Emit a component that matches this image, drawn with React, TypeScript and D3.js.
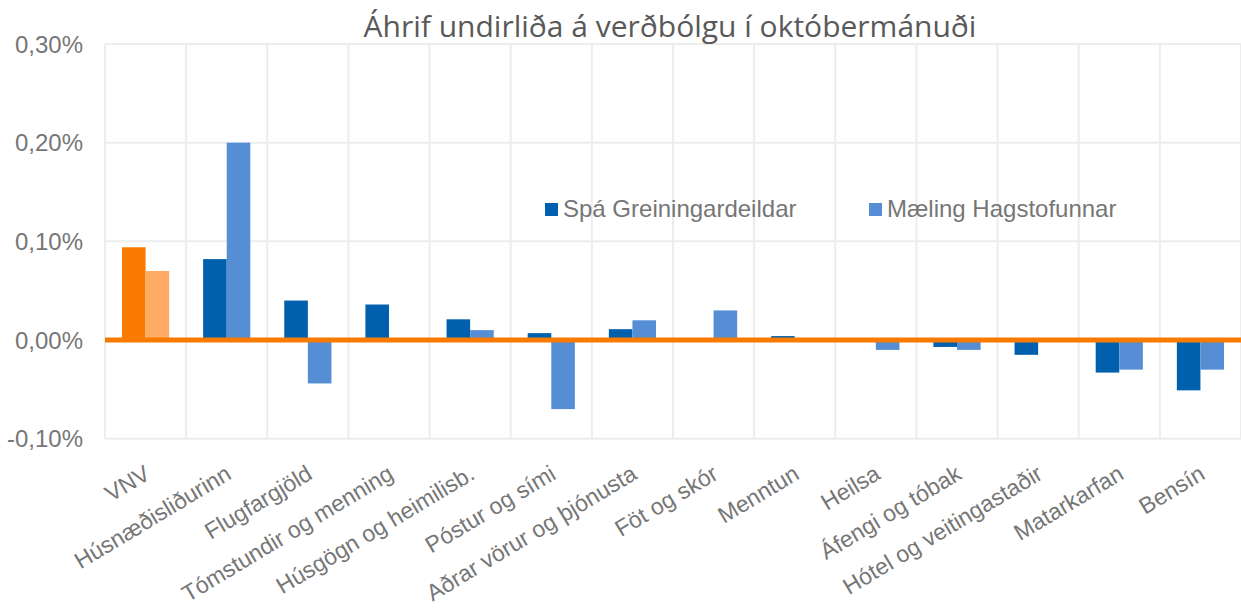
import React from "react";
import * as d3 from "d3";

const title = "Áhrif undirliða á verðbólgu í októbermánuði";
const categories = [
  "VNV",
  "Húsnæðisliðurinn",
  "Flugfargjöld",
  "Tómstundir og menning",
  "Húsgögn og heimilisb.",
  "Póstur og sími",
  "Aðrar vörur og þjónusta",
  "Föt og skór",
  "Menntun",
  "Heilsa",
  "Áfengi og tóbak",
  "Hótel og veitingastaðir",
  "Matarkarfan",
  "Bensín",
];
const spaValues = [0.094, 0.082, 0.04, 0.036, 0.021, 0.007, 0.011, 0.002, 0.004, 0, -0.007, -0.015, -0.033, -0.051];
const maelingValues = [0.07, 0.2, -0.044, 0, 0.01, -0.07, 0.02, 0.03, 0, -0.01, -0.01, 0, -0.03, -0.03];
const yTicks = [-0.1, 0, 0.1, 0.2, 0.3];
const yTickLabels = ["-0,10%", "0,00%", "0,10%", "0,20%", "0,30%"];
const seriesNames = ["Spá Greiningardeildar", "Mæling Hagstofunnar"];

const W = 1241;
const H = 615;
const plotLeft = 105;
const plotRight = 1241;
const plotTop = 44;
const plotBottom = 438.7;

const COLORS = {
  spa: "#0060AE",
  maeling: "#558ED5",
  spaHi: "#F87A00",
  maelingHi: "#FFAB63",
  grid: "#EDEDED",
  zero: "#F87A00",
  text: "#767676",
  title: "#595959",
};

export default function App() {
  const x = d3.scaleBand<string>().domain(categories).range([plotLeft, plotRight]).padding(0);
  const inner = d3
    .scaleBand<string>()
    .domain(["spa", "maeling"])
    .range([0, x.bandwidth()])
    .paddingInner(0)
    .paddingOuter(0.72);
  const y = d3.scaleLinear().domain([-0.1, 0.3]).range([plotBottom, plotTop]);

  const font = "'Liberation Sans', Arial, sans-serif";

  const bar = (v: number, key: string, i: number, fill: string) => {
    const x0 = (x(categories[i]) as number) + (inner(key) as number);
    const y0 = y(Math.max(0, v));
    const h = Math.abs(y(v) - y(0));
    return <rect key={key + i} x={x0} y={y0} width={inner.bandwidth()} height={h} fill={fill} />;
  };

  const gridX = [...categories.map((c) => x(c) as number), plotRight];

  return (
    <svg
      width={W}
      height={H}
      style={{ position: "absolute", left: 0, top: 0, background: "#fff" }}
      fontFamily={font}
    >
      <rect x={0} y={0} width={W} height={H} fill="#fff" />
      {/* gridlines */}
      {yTicks.map((t) => (
        <line key={"gy" + t} x1={plotLeft} x2={plotRight} y1={y(t)} y2={y(t)} stroke={COLORS.grid} strokeWidth={2} />
      ))}
      {gridX.map((gx, i) => (
        <line key={"gx" + i} x1={gx} x2={gx} y1={plotTop} y2={plotBottom} stroke={COLORS.grid} strokeWidth={2} />
      ))}
      {/* bars */}
      {categories.map((c, i) => (
        <g key={"b" + c}>
          {bar(spaValues[i], "spa", i, i === 0 ? COLORS.spaHi : COLORS.spa)}
          {bar(maelingValues[i], "maeling", i, i === 0 ? COLORS.maelingHi : COLORS.maeling)}
        </g>
      ))}
      {/* zero line */}
      <line x1={plotLeft} x2={plotRight} y1={y(0)} y2={y(0)} stroke={COLORS.zero} strokeWidth={5} />
      {/* y axis labels */}
      {yTicks.map((t, i) => (
        <text key={"yl" + t} x={83} y={y(t)} dy="0.36em" textAnchor="end" fontSize={24} fill={COLORS.text}>
          {yTickLabels[i]}
        </text>
      ))}
      {/* x labels */}
      {categories.map((c) => {
        const cx = (x(c) as number) + x.bandwidth() / 2 + 6;
        const cy = 478;
        return (
          <text
            key={"xl" + c}
            x={cx}
            y={cy}
            textAnchor="end"
            fontSize={23}
            fill={COLORS.text}
            transform={`rotate(-31 ${cx} ${cy})`}
          >
            {c}
          </text>
        );
      })}
      {/* title */}
      <text
        x={670}
        y={37}
        textAnchor="middle"
        fontSize={30}
        fill={COLORS.title}
        fontFamily="'Open Sans', 'Noto Sans', sans-serif"
      >
        {title}
      </text>
      {/* legend */}
      <rect x={545} y={203} width={13} height={13} fill={COLORS.spa} />
      <text x={563} y={217} fontSize={24} fill={COLORS.text}>
        {seriesNames[0]}
      </text>
      <rect x={869} y={203} width={13} height={13} fill={COLORS.maeling} />
      <text x={887} y={217} fontSize={24} fill={COLORS.text}>
        {seriesNames[1]}
      </text>
    </svg>
  );
}
